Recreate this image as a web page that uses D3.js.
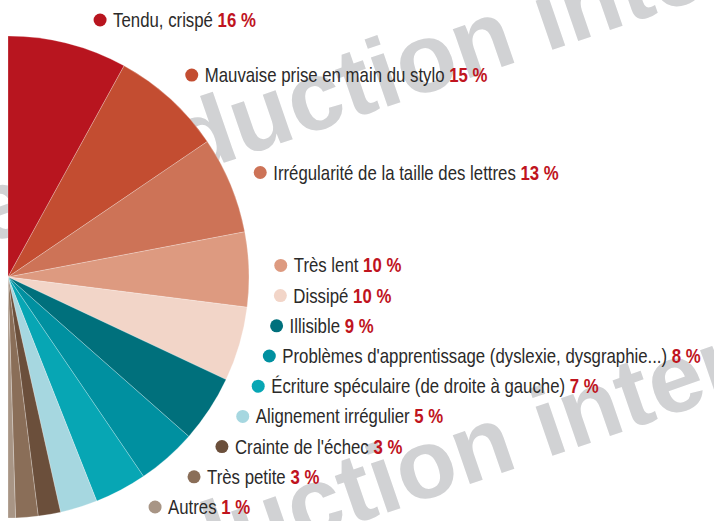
<!DOCTYPE html>
<html>
<head>
<meta charset="utf-8">
<script src="https://cdn.jsdelivr.net/npm/d3@7"></script>
<style>
    body { margin: 0; background: #fff; }
    svg { display: block; }
</style>
</head>
<body>
<div id="viz"></div>
<script>
// Values (percentages, half pie = 100 %)
const categories = [
    "Tendu, crispé",
    "Mauvaise prise en main du stylo",
    "Irrégularité de la taille des lettres",
    "Très lent",
    "Dissipé",
    "Illisible",
    "Problèmes d'apprentissage (dyslexie, dysgraphie...)",
    "Écriture spéculaire (de droite à gauche)",
    "Alignement irrégulier",
    "Crainte de l'échec",
    "Très petite",
    "Autres"
];
const values = [16, 15, 13, 10, 10, 9, 8, 7, 5, 3, 3, 1];
const valueLabels = ["16 %", "15 %", "13 %", "10 %", "10 %", "9 %", "8 %", "7 %", "5 %", "3 %", "3 %", "1 %"];
const colors = [
    "#b8151f", "#c34d31", "#cd7357", "#dd9a80", "#f2d5c8",
    "#00707c", "#0090a0", "#07a6b4", "#a6d7e0",
    "#6b4f3b", "#8a6e58", "#a89585"
];

const width = 714,
    height = 521;

const cx = 8,
    cy = 277,
    radius = 241;

// no condensed face installed: squeeze Liberation Sans horizontally
const labelFont = "'Liberation Sans', Arial, sans-serif";
const fontSize = 20;
const squeeze = 0.84;

let svg = d3.select("#viz").append("svg")
    .attr("width", width)
    .attr("height", height);

// Watermark behind everything
const wmSize = 98;
const wmAngle = -19;

function watermark(ox, oy) {
    let g = svg.append("g")
        .attr("transform", "translate(" + ox + "," + oy + ") rotate(" + wmAngle + ")");
    let t = g.append("text")
        .attr("font-family", "'Liberation Sans', Arial, sans-serif")
        .attr("font-weight", "bold")
        .attr("font-size", wmSize)
        .attr("fill", "#d1d2d4")
        .text("reproduction interdite");
    // centre the 'o' of "duction" on the given point
    const node = t.node();
    const before = node.getSubStringLength(0, 10);
    const oW = node.getSubStringLength(10, 1);
    t.attr("x", -(before + oW / 2)).attr("y", 0.26 * wmSize);
}

watermark(427, 66);
watermark(427, 472);

// Half pie
const pie = d3.pie()
    .sort(null)
    .startAngle(0)
    .endAngle(Math.PI)
    .value(function(d) { return d; });

const arc = d3.arc()
    .innerRadius(0)
    .outerRadius(radius);

const arcs = pie(values);

let g = svg.append("g")
    .attr("transform", "translate(" + cx + "," + cy + ")");

g.selectAll(".slice")
    .data(arcs)
    .enter().append("path")
    .attr("class", "slice")
    .attr("d", arc)
    .attr("fill", function(d, i) { return colors[i]; })
    .attr("stroke", "#fff")
    .attr("stroke-width", 0.4)
    .attr("stroke-opacity", 0.6);

// Labels: start at the slice's mid angle, then stack upward from the bottom
const labelR = 273;
const gap = 30.2;
const yMax = 507,
    yMin = 20;

let ys = arcs.map(function(a) {
    return cy - labelR * Math.cos((a.startAngle + a.endAngle) / 2);
});
for (let i = ys.length - 1; i >= 0; i--) {
    const lim = (i == ys.length - 1) ? yMax : ys[i + 1] - gap;
    ys[i] = Math.min(ys[i], lim);
}
ys[0] = Math.max(ys[0], yMin);

let labels = svg.selectAll(".label")
    .data(arcs)
    .enter().append("g")
    .attr("class", "label")
    .attr("transform", function(d, i) {
        const dy = ys[i] - cy;
        const x = cx + Math.sqrt(labelR * labelR - dy * dy);
        return "translate(" + x + "," + ys[i] + ")";
    });

labels.append("circle")
    .attr("r", 6.5)
    .attr("fill", function(d, i) { return colors[i]; });

let txt = labels.append("text")
    .attr("transform", "translate(13,7) scale(" + squeeze + ",1)")
    .attr("font-family", labelFont)
    .attr("font-size", fontSize);

txt.append("tspan")
    .attr("fill", "#2b2a29")
    .text(function(d, i) { return categories[i] + " "; });

txt.append("tspan")
    .attr("fill", "#c0141e")
    .attr("font-weight", "bold")
    .text(function(d, i) { return valueLabels[i]; });
</script>
</body>
</html>
